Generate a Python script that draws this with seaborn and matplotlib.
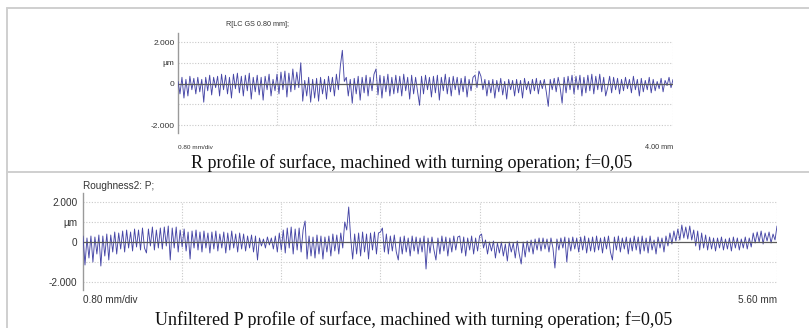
import numpy as np
import pandas as pd
import matplotlib
matplotlib.use("Agg")
import matplotlib.pyplot as plt
from matplotlib.lines import Line2D
import seaborn as sns

# sampling step along the traverse, mm
step_mm = 0.016
div_mm = 0.8

# R profile (filtered, LC GS 0.80 mm), micrometres, 0 .. 4.00 mm
r_profile = [
    0.1, -0.5, 0.3, -0.7, 0.2, -0.6, 0.35, -0.3, 0.25, -0.5,
    0.3, -0.4, 0.2, -0.9, 0.3, -0.35, 0.4, -0.55, 0.3, -0.2,
    0.35, -0.6, 0.45, -0.3, 0.4, -0.5, 0.3, -0.7, 0.45, -0.25,
    0.5, -0.45, 0.35, -0.6, 0.4, -0.35, 0.5, -0.75, 0.3, -0.4,
    0.4, -0.55, 0.3, -0.8, 0.35, -0.3, 0.45, -0.6, 0.2, -0.35,
    0.45, -0.5, 0.55, -0.3, 0.6, -0.65, 0.5, -0.4, 0.7, -0.3,
    0.55, -0.2, 1.0, -0.85, 0.15, -0.6, 0.3, -0.9, 0.2, -0.7,
    0.25, -0.85, 0.3, -0.5, 0.2, -0.75, 0.35, -0.4, 0.3, -0.6,
    0.45, -0.3, 0.85, 1.6, 0.1, 0.3, -0.6, 0.2, -0.95, 0.25,
    -0.5, 0.35, -0.8, 0.3, -0.45, 0.4, -0.6, 0.3, -0.35, 0.45,
    0.7, -0.55, 0.4, -0.7, 0.35, -0.4, 0.45, -0.6, 0.3, -0.5,
    0.4, -0.45, 0.35, -0.6, 0.45, -0.35, 0.3, -0.75, 0.4, -0.5,
    0.3, -0.4, -1.05, 0.35, -0.5, 0.4, -0.3, 0.3, -0.65, 0.35,
    -0.45, 0.4, -0.8, 0.3, -0.35, 0.45, -0.5, 0.3, -0.6, 0.35,
    -0.3, 0.3, -0.55, 0.25, -0.4, 0.35, -0.65, 0.2, -0.35, 0.3,
    0.4, -0.2, 0.6, 0.35, -0.3, 0.2, -0.6, 0.15, -0.45, 0.2,
    -0.7, 0.15, -0.4, 0.25, -0.55, 0.1, -0.75, 0.2, -0.3, 0.15,
    -0.6, 0.2, -0.45, 0.15, -0.7, 0.25, -0.3, 0.1, -0.5, 0.2,
    -0.35, 0.25, -0.5, 0.15, -0.25, 0.2, -0.4, -1.1, 0.2, -0.3,
    0.25, -0.4, 0.3, -0.2, -0.95, 0.3, -0.45, 0.35, -0.3, 0.4,
    -0.5, 0.35, -0.3, 0.4, -0.6, 0.3, -0.45, 0.4, -0.35, 0.45,
    -0.5, 0.35, -0.3, 0.45, -0.4, 0.3, -0.6, -0.2, 0.35, -0.45,
    0.3, -0.3, 0.25, -0.5, 0.2, -0.35, 0.3, -0.25, 0.2, -0.45,
    0.35, -0.3, 0.2, -0.6, 0.25, -0.4, 0.15, -0.3, 0.3, -0.45,
    0.2, -0.35, 0.1, -0.25, 0.25, -0.4, 0.15, -0.1, 0.3, -0.2,
    0.2,
]

# P profile (unfiltered), micrometres, 0 .. 5.60 mm
p_profile = [
    0.3, -1.15, 0.2, -0.8, 0.3, -1.0, 0.25, -0.6, 0.35, -1.2,
    0.3, -0.7, 0.4, -0.9, 0.35, -0.5, 0.5, -0.6, 0.45, -0.35,
    0.55, -0.5, 0.6, -0.3, 0.5, -0.45, 0.65, -0.25, 0.6, -0.4,
    0.7, -0.3, -0.55, 0.65, -0.2, 0.75, -0.4, 0.6, -0.3, 0.7,
    -0.35, 0.75, -0.2, 0.8, -0.9, 0.7, -0.3, 0.75, -0.5, 0.6,
    -0.25, 0.65, -0.45, 0.5, -0.85, 0.55, -0.3, 0.6, -0.4, 0.5,
    -0.5, 0.55, -0.3, 0.45, -0.55, 0.5, -0.35, 0.55, -0.45, 0.4,
    -0.3, 0.5, -0.55, 0.45, -0.4, 0.55, -0.3, 0.4, -0.5, 0.45,
    -0.35, 0.4, -0.45, 0.3, -0.3, 0.35, -0.5, 0.3, -0.9, 0.2,
    -0.2, 0.15, -0.3, 0.25, -0.15, 0.2, -0.35, 0.3, -0.5, 0.45,
    -0.4, 0.6, -0.55, 0.7, -0.3, 0.75, -0.6, 0.65, -0.4, 0.7,
    -0.5, 0.6, 1.05, -0.85, 0.3, -0.7, 0.25, -0.8, 0.35, -0.6,
    0.3, -0.85, 0.25, -0.5, 0.3, -0.7, 0.4, -0.45, 0.35, -0.6,
    0.45, -0.3, 1.0, 0.6, 1.75, 0.2, -0.85, 0.4, -0.6, 0.45,
    -0.7, 0.5, -0.5, 0.4, -0.85, 0.45, -0.4, 0.5, -0.6, 0.45,
    0.5, 0.7, -0.5, 0.4, -0.6, 0.3, -0.45, 0.35, -0.5, -0.9,
    0.25, -0.6, 0.3, -0.5, 0.2, -0.7, 0.3, -0.45, 0.25, -0.6,
    0.2, -0.5, 0.3, -1.35, 0.2, -0.55, 0.25, -0.4, -0.9, 0.2,
    -0.6, 0.3, -0.45, 0.25, -0.7, 0.2, -0.5, 0.3, -0.4, 0.25,
    0.3, -0.55, 0.25, -0.7, 0.2, -0.4, 0.3, -0.6, 0.2, -0.45,
    0.3, 0.4, -0.3, 0.1, -0.6, 0.0, -0.45, 0.05, -0.8, -0.05,
    -0.55, 0.0, -0.7, -0.1, -0.95, 0.0, -0.5, -0.05, -0.8, 0.05,
    -0.6, -1.1, 0.0, -0.75, 0.05, -0.5, 0.1, -0.6, 0.15, -0.4,
    0.2, -0.45, 0.2, -0.35, 0.15, -0.5, 0.2, -0.3, -1.3, 0.15,
    -0.4, 0.2, -0.3, 0.25, -1.0, 0.2, -0.45, 0.25, -0.35, 0.2,
    -0.5, 0.25, -0.4, 0.3, -0.55, 0.2, -0.45, 0.25, -0.5, 0.3,
    -0.4, 0.2, -0.55, 0.25, -0.35, 0.3, -0.5, -0.9, 0.25, -0.4,
    0.3, -0.5, 0.2, -0.35, 0.25, -0.6, 0.2, -0.45, 0.3, -0.4,
    0.25, -0.6, 0.3, -0.45, 0.2, -0.55, 0.3, -0.4, 0.1, -0.6,
    0.25, -0.3, 0.2, -0.5, 0.3, -0.2, 0.45, -0.1, 0.55, 0.05,
    0.65, 0.1, 0.85, 0.2, 0.75, 0.15, 0.8, 0.1, 0.6, -0.2,
    0.55, -0.4, 0.45, -0.3, 0.35, -0.4, 0.25, -0.35, 0.2, -0.45,
    0.2, -0.3, 0.25, -0.4, 0.15, -0.35, 0.2, -0.45, 0.25, -0.3,
    0.2, -0.4, 0.15, -0.3, 0.25, -0.35, 0.2, -0.25, 0.45, -0.05,
    0.5, 0.0, 0.55, -0.1, 0.45, 0.05, 0.5, -0.05, 0.4, 0.1,
    0.8,
]

y_ticks = [2, 1, 0, -2]
y_ticklabels = ["2.000", "µm", "0", "-2.000"]

r_title = "R[LC GS 0.80 mm];"
p_title = "Roughness2: P;"
r_caption = "R profile of surface, machined with turning operation; f=0,05"
p_caption = "Unfiltered P profile of surface, machined with turning operation; f=0,05"

W, H = 809, 328
sns.set_style("white")
plt.rcParams["font.family"] = ["Liberation Sans", "DejaVu Sans"]

fig = plt.figure(figsize=(W / 100, H / 100), dpi=100)
fig.patch.set_facecolor("white")


def px_rect(x0, y0, x1, y1):
    return [x0 / W, 1 - y1 / H, (x1 - x0) / W, (y1 - y0) / H]


def fig_line(x0, y0, x1, y1, color="#cfcfcf", lw=1.4):
    fig.add_artist(Line2D([x0 / W, x1 / W], [1 - y0 / H, 1 - y1 / H],
                          transform=fig.transFigure, color=color, lw=lw))


# table frame around the two figures
fig_line(7, 8, W + 2, 8)
fig_line(7, 8, 7, H + 2)
fig_line(7, 172, W + 2, 172)

line_color = "#4646a6"
grid_kw = dict(color="#c9c9c9", lw=0.8, linestyles=(0, (1, 1.5)), zorder=1)
narrow = ["Liberation Sans Narrow", "Liberation Sans"]
serif = ["Liberation Serif", "DejaVu Serif"]


def profile_panel(rect, values, length, fam, fsize, pad):
    ax = fig.add_axes(px_rect(*rect))
    df = pd.DataFrame({"x": np.arange(len(values)) * step_mm, "z": values})
    ax.set_xlim(0, length)
    ax.set_ylim(-2.4, 2.45)
    divs = np.arange(div_mm, length + 1e-9, div_mm)
    ax.vlines(divs, -2, 2, **grid_kw)
    ax.hlines([2, 1, -1, -2], 0, length, **grid_kw)
    sns.lineplot(data=df, x="x", y="z", ax=ax, color=line_color,
                 lw=0.65, zorder=3, estimator=None)
    ax.hlines(0, 0, length, color="#5a5a5a", lw=0.9, zorder=4)
    for s in ["top", "right", "bottom"]:
        ax.spines[s].set_visible(False)
    ax.spines["left"].set_color("#9a9a9a")
    ax.spines["left"].set_linewidth(1.0)
    ax.set_xticks([])
    ax.set_yticks(y_ticks)
    ax.set_yticklabels(y_ticklabels, family=fam, fontsize=fsize, color="#333333")
    ax.tick_params(axis="y", length=0, pad=pad)
    ax.set_xlabel("")
    ax.set_ylabel("")
    ax.patch.set_alpha(0)
    return ax


# R profile, 4.00 mm traverse
profile_panel((178, 32.7, 673, 133.3), r_profile, 4.0, narrow, 6.0, 2.5)
fig.text(226 / W, 1 - 25 / H, r_title, family=narrow,
         fontsize=5.2, color="#333333", va="center", ha="left")
fig.text(178 / W, 1 - 147 / H, "0.80 mm/div", family=narrow,
         fontsize=4.6, color="#333333", va="center", ha="left")
fig.text(673 / W, 1 - 147 / H, "4.00 mm", family=narrow,
         fontsize=5.2, color="#333333", va="center", ha="right")
fig.text(412 / W, 1 - 163 / H, r_caption, family=serif,
         fontsize=13, color="#111111", va="center", ha="center")

# P profile, 5.60 mm traverse
profile_panel((83, 193, 777, 290), p_profile, 5.6,
              ["Liberation Sans", "DejaVu Sans"], 7.2, 4)
fig.text(83 / W, 1 - 186 / H, p_title, fontsize=7.2, color="#333333",
         va="center", ha="left")
fig.text(83 / W, 1 - 300 / H, "0.80 mm/div", fontsize=7.2, color="#333333",
         va="center", ha="left")
fig.text(777 / W, 1 - 300 / H, "5.60 mm", fontsize=7.2, color="#333333",
         va="center", ha="right")
fig.text(414 / W, 1 - 320 / H, p_caption, family=serif,
         fontsize=13, color="#111111", va="center", ha="center")

fig.savefig("out.png", dpi=100, facecolor="white")
